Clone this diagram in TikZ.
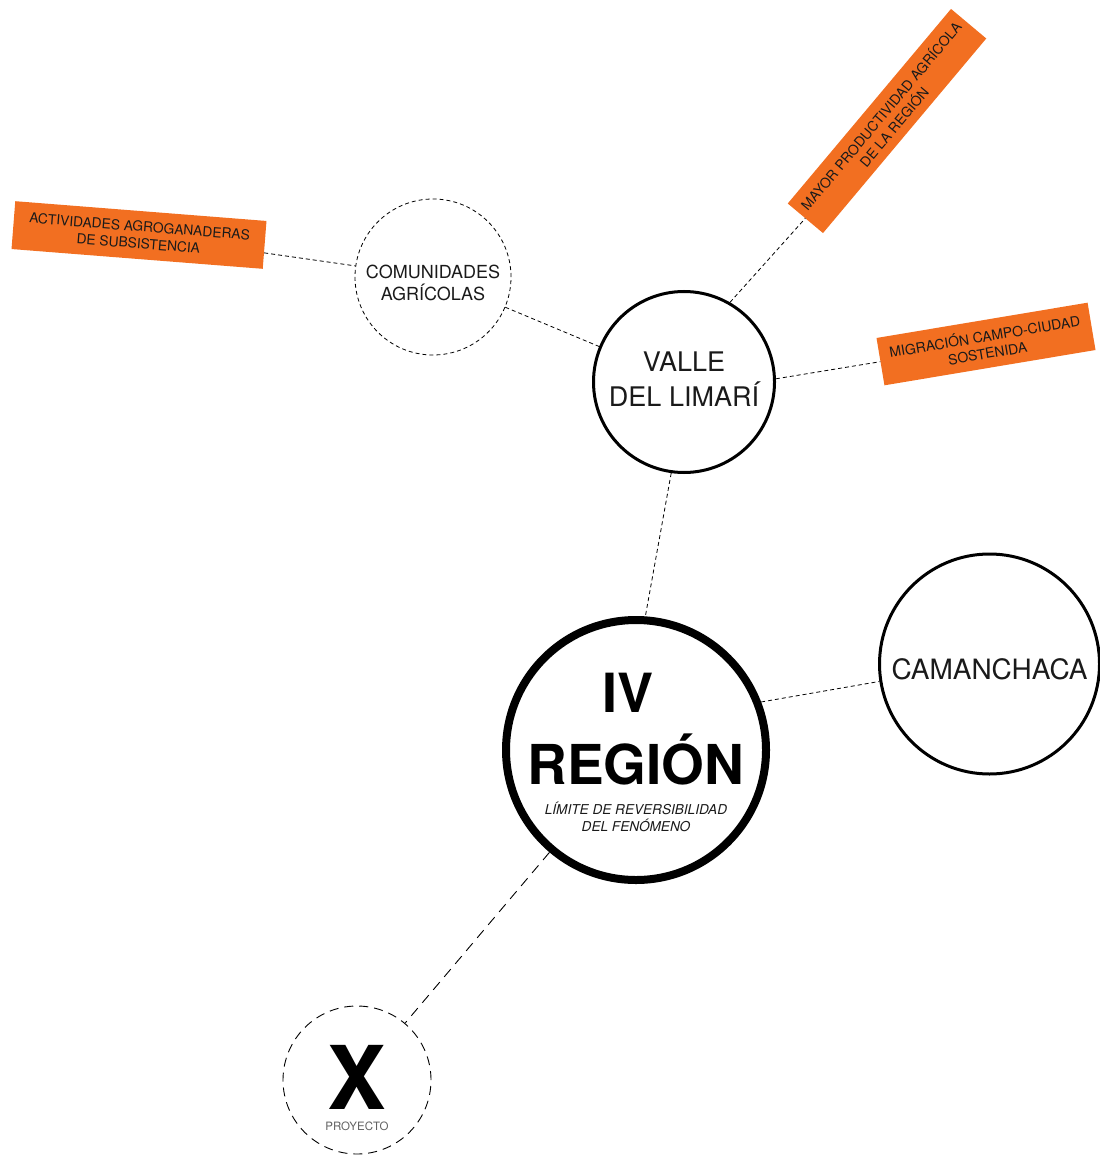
\documentclass[tikz,border=0pt]{standalone}
\usepackage{fontspec}
\setmainfont{TeX Gyre Heros}
\definecolor{orng}{HTML}{F26F21}
\definecolor{ink}{HTML}{1A1A1A}
\tikzset{
  circ/.style={circle, draw=black, inner sep=0pt, align=center, text=ink},
  dcirc/.style={circ, line width=0.8pt, dash pattern=on 4pt off 3pt},
  obox/.style={fill=orng, draw=none, inner sep=0pt, align=center, text=ink,
    font=\fontsize{13.8}{17}\selectfont},
  txt/.style={inner sep=0pt, align=center, text=ink},
  link/.style={line width=0.8pt, dash pattern=on 4pt off 3pt},
  longlink/.style={line width=0.9pt, dash pattern=on 10pt off 7pt}
}
\begin{document}
\begin{tikzpicture}[x=1pt,y=-1pt]
\useasboundingbox (0,0) rectangle (1099,1155);

% circles
\node[dcirc, minimum size=156pt] (com) at (433,277) {};
\node[txt, font=\fontsize{18}{22}\selectfont] (comt) at (433,283) {COMUNIDADES\\AGRÍCOLAS};
\node[circ, line width=3pt, minimum size=181pt] (valle) at (684,382) {};
\node[txt, font=\fontsize{27}{35}\selectfont] (vallet) at (684,379) {VALLE\\DEL LIMARÍ};
\node[circ, line width=3pt, minimum size=220pt] (cam) at (989.5,664) {};
\node[txt, font=\fontsize{28}{32}\selectfont] (camt) at (989.5,669) {CAMANCHACA};
\node[circ, line width=8pt, minimum size=260pt] (iv) at (636,750) {};
\node[circ, line width=0.9pt, dash pattern=on 9pt off 6pt, minimum size=148pt] (x) at (357,1080) {};

% texts in IV region
\node[txt, font=\bfseries\fontsize{54}{54}\selectfont, text=black] (ivt) at (628,693) {IV};
\node[txt, font=\bfseries\fontsize{55}{55}\selectfont, text=black] (regt) at (636,759) {REGIÓN};
\node[txt, font=\itshape\fontsize{13.6}{17}\selectfont] (limt) at (636,817) {LÍMITE DE REVERSIBILIDAD\\DEL FENÓMENO};

% X project
\node[txt, font=\bfseries\fontsize{88}{88}\selectfont, text=black] (xt) at (357,1077) {X};
\node[txt, font=\fontsize{11.5}{13}\selectfont, text=black!62] (proy) at (357,1126) {PROYECTO};

% orange boxes
\node[obox, rotate=-4.5, minimum width=252pt, minimum height=48pt] (act) at (139,235) {ACTIVIDADES AGROGANADERAS\\DE SUBSISTENCIA};
\node[obox, rotate=50, minimum width=254pt, minimum height=46pt] (may) at (887,121) {MAYOR PRODUCTIVIDAD AGRÍCOLA\\DE LA REGIÓN};
\node[obox, rotate=9.5, minimum width=214pt, minimum height=48pt, font=\fontsize{14}{17}\selectfont] (mig) at (986,344) {MIGRACIÓN CAMPO-CIUDAD\\SOSTENIDA};

% connectors
\draw[link] (act) -- (com);
\draw[link] (com) -- (valle);
\draw[link] (valle.60) -- (may.west);
\draw[link] (valle.2) -- (mig.west);
\draw[link] (valle.262) -- (iv.86);
\draw[link] (iv.21) -- (cam.189);
\draw[longlink] (iv) -- (x);
\end{tikzpicture}
\end{document}
